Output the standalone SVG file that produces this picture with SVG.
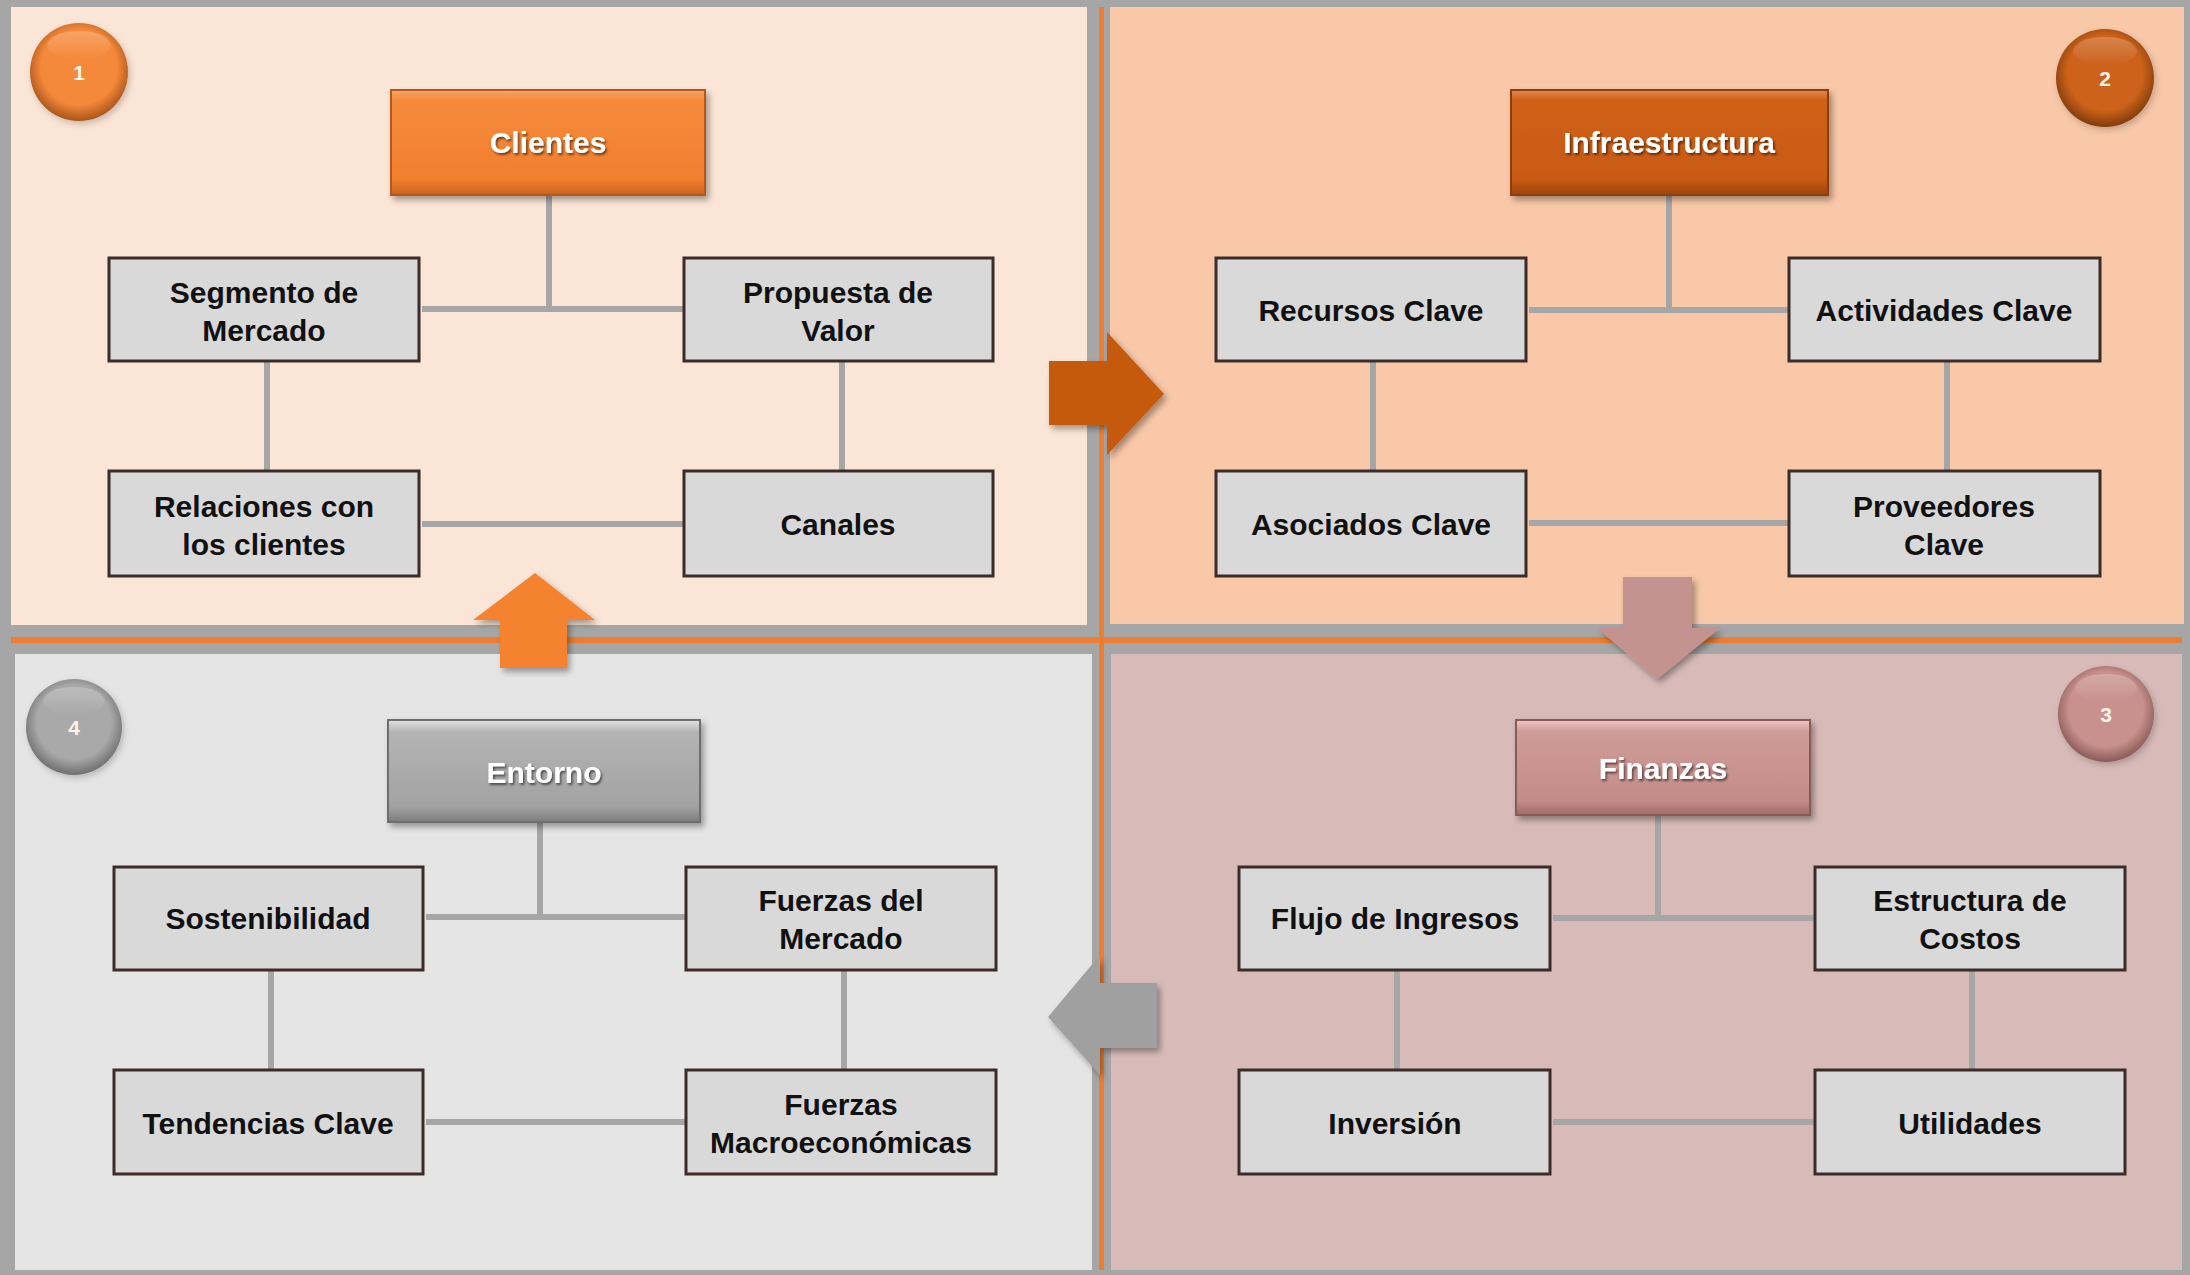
<svg xmlns="http://www.w3.org/2000/svg" width="2190" height="1275" viewBox="0 0 2190 1275">
<defs>
<style>
.node{fill:#d9d9d9;stroke:#3b2c2a;stroke-width:3}
.lbl{font-family:"Liberation Sans",Arial,sans-serif;font-weight:bold;font-size:30px;fill:#111;text-anchor:middle}
.hlbl{font-family:"Liberation Sans",Arial,sans-serif;font-weight:bold;font-size:30px;fill:#ffffff;text-anchor:middle;filter:url(#tsh)}
.num{font-family:"Liberation Sans",Arial,sans-serif;font-weight:bold;font-size:21px;fill:#fff3e8;text-anchor:middle}
.link{stroke:#a6a6a6;stroke-width:6;fill:none}
.div{stroke:#ed7d31;fill:none}
</style>
<filter id="tsh" x="-20%" y="-40%" width="140%" height="180%"><feDropShadow dx="1.5" dy="2" stdDeviation="1.2" flood-color="#000" flood-opacity="0.55"/></filter>
<filter id="sh" x="-20%" y="-20%" width="150%" height="150%"><feDropShadow dx="3" dy="4" stdDeviation="3" flood-color="#000" flood-opacity="0.35"/></filter>
<filter id="bsh" x="-10%" y="-10%" width="120%" height="130%"><feDropShadow dx="2" dy="3" stdDeviation="3" flood-color="#000" flood-opacity="0.2"/></filter>
<linearGradient id="gC" x1="0" y1="0" x2="0" y2="1"><stop offset="0" stop-color="#f7a468"/><stop offset="0.1" stop-color="#f58a3c"/><stop offset="0.85" stop-color="#f27f2e"/><stop offset="1" stop-color="#c9621e"/></linearGradient>
<linearGradient id="gI" x1="0" y1="0" x2="0" y2="1"><stop offset="0" stop-color="#e08a50"/><stop offset="0.1" stop-color="#cf6018"/><stop offset="0.85" stop-color="#c95a12"/><stop offset="1" stop-color="#9c440c"/></linearGradient>
<linearGradient id="gF" x1="0" y1="0" x2="0" y2="1"><stop offset="0" stop-color="#f0c8c5"/><stop offset="0.12" stop-color="#cf9c98"/><stop offset="0.85" stop-color="#c48c88"/><stop offset="1" stop-color="#a06c68"/></linearGradient>
<linearGradient id="gE" x1="0" y1="0" x2="0" y2="1"><stop offset="0" stop-color="#e2e2e2"/><stop offset="0.12" stop-color="#b4b4b4"/><stop offset="0.85" stop-color="#a2a2a2"/><stop offset="1" stop-color="#7c7c7c"/></linearGradient>
<radialGradient id="b1" cx="0.5" cy="0.45" r="0.55"><stop offset="0.7" stop-color="#f5893a"/><stop offset="1" stop-color="#a9561c"/></radialGradient>
<radialGradient id="b2" cx="0.5" cy="0.45" r="0.55"><stop offset="0.7" stop-color="#cc621a"/><stop offset="1" stop-color="#803c0c"/></radialGradient>
<radialGradient id="b3" cx="0.5" cy="0.45" r="0.55"><stop offset="0.7" stop-color="#c8918d"/><stop offset="1" stop-color="#8a5a56"/></radialGradient>
<radialGradient id="b4" cx="0.5" cy="0.45" r="0.55"><stop offset="0.7" stop-color="#a9a9a9"/><stop offset="1" stop-color="#6e6e6e"/></radialGradient>
<linearGradient id="hl" x1="0" y1="0" x2="0" y2="1"><stop offset="0" stop-color="#fff" stop-opacity="0.22"/><stop offset="1" stop-color="#fff" stop-opacity="0"/></linearGradient>
</defs>

<rect x="0" y="0" width="2190" height="1275" fill="#a6a6a6"/>

<g id="panels">
<rect x="11" y="7" width="1076" height="618" fill="#fbe5d6"/>
<rect x="1110" y="7" width="1074" height="617" fill="#f8c8a8"/>
<rect x="15" y="654" width="1077" height="616" fill="#e5e5e5"/>
<rect x="1111" y="654" width="1071" height="616" fill="#d8bbb9"/>
<line class="div" x1="1101.5" y1="7" x2="1101.5" y2="1270" stroke-width="5"/>
<line class="div" x1="11" y1="640" x2="2182" y2="640" stroke-width="6"/>
</g>

<g id="connectors">
<path class="link" d="M549 195 V309 M422 309 H684 M267 361 V471 M842 361 V471 M422 524 H684"/>
<path class="link" d="M1669 195 V310 M1529 310 H1789 M1373 361 V471 M1947 361 V471 M1529 523 H1789"/>
<path class="link" d="M540 822 V917 M426 917 H686 M271 970 V1070 M844 970 V1070 M426 1122 H686"/>
<path class="link" d="M1658 815 V918 M1553 918 H1815 M1397 970 V1070 M1972 970 V1070 M1553 1122 H1815"/>
<path id="arrow-right" filter="url(#sh)" fill="#c55a11" d="M1049 361 H1107 V332 L1164 394 L1107 455 V425 H1049 Z"/>
<path id="arrow-down" filter="url(#sh)" fill="#c4938f" d="M1623 577 H1692 V628 H1720 L1657 679 L1597 628 H1623 Z"/>
<path id="arrow-left" filter="url(#sh)" fill="#a0a0a0" d="M1157 983 V1048 H1100 V1075 L1048 1017 L1100 955 V983 Z"/>
<path id="arrow-up" filter="url(#sh)" fill="#f5822f" d="M535 573 L595 620 H567 V668 H500 V620 H473 Z"/>
</g>

<g id="badge-1"><circle cx="79" cy="72" r="49" fill="url(#b1)" filter="url(#bsh)"/><ellipse cx="79" cy="45" rx="32" ry="14" fill="url(#hl)"/><text class="num" x="79" y="80">1</text></g>
<g id="badge-2"><circle cx="2105" cy="78" r="49" fill="url(#b2)" filter="url(#bsh)"/><ellipse cx="2105" cy="51" rx="32" ry="14" fill="url(#hl)"/><text class="num" x="2105" y="86">2</text></g>
<g id="badge-3"><circle cx="2106" cy="714" r="48" fill="url(#b3)" filter="url(#bsh)"/><ellipse cx="2106" cy="688" rx="31" ry="14" fill="url(#hl)"/><text class="num" x="2106" y="722">3</text></g>
<g id="badge-4"><circle cx="74" cy="727" r="48" fill="url(#b4)" filter="url(#bsh)"/><ellipse cx="74" cy="701" rx="31" ry="14" fill="url(#hl)"/><text class="num" x="74" y="735">4</text></g>

<g id="clientes"><rect x="391" y="90" width="314" height="105" fill="url(#gC)" stroke="#b4581a" stroke-width="2" filter="url(#sh)"/><text class="hlbl" x="548" y="153">Clientes</text></g>
<g id="segmento-mercado"><rect class="node" x="109" y="258" width="310" height="103"/><text class="lbl" x="264" y="303">Segmento de</text><text class="lbl" x="264" y="341">Mercado</text></g>
<g id="propuesta-valor"><rect class="node" x="684" y="258" width="309" height="103"/><text class="lbl" x="838" y="303">Propuesta de</text><text class="lbl" x="838" y="341">Valor</text></g>
<g id="relaciones-clientes"><rect class="node" x="109" y="471" width="310" height="105"/><text class="lbl" x="264" y="517">Relaciones con</text><text class="lbl" x="264" y="555">los clientes</text></g>
<g id="canales"><rect class="node" x="684" y="471" width="309" height="105"/><text class="lbl" x="838" y="535">Canales</text></g>

<g id="infraestructura"><rect x="1511" y="90" width="317" height="105" fill="url(#gI)" stroke="#8e3e0a" stroke-width="2" filter="url(#sh)"/><text class="hlbl" x="1669" y="153">Infraestructura</text></g>
<g id="recursos-clave"><rect class="node" x="1216" y="258" width="310" height="103"/><text class="lbl" x="1371" y="321">Recursos Clave</text></g>
<g id="actividades-clave"><rect class="node" x="1789" y="258" width="311" height="103"/><text class="lbl" x="1944" y="321">Actividades Clave</text></g>
<g id="asociados-clave"><rect class="node" x="1216" y="471" width="310" height="105"/><text class="lbl" x="1371" y="535">Asociados Clave</text></g>
<g id="proveedores-clave"><rect class="node" x="1789" y="471" width="311" height="105"/><text class="lbl" x="1944" y="517">Proveedores</text><text class="lbl" x="1944" y="555">Clave</text></g>

<g id="entorno"><rect x="388" y="720" width="312" height="102" fill="url(#gE)" stroke="#6e6e6e" stroke-width="2" filter="url(#sh)"/><text class="hlbl" x="544" y="783">Entorno</text></g>
<g id="sostenibilidad"><rect class="node" x="114" y="867" width="309" height="103"/><text class="lbl" x="268" y="929">Sostenibilidad</text></g>
<g id="fuerzas-mercado"><rect class="node" x="686" y="867" width="310" height="103"/><text class="lbl" x="841" y="911">Fuerzas del</text><text class="lbl" x="841" y="949">Mercado</text></g>
<g id="tendencias-clave"><rect class="node" x="114" y="1070" width="309" height="104"/><text class="lbl" x="268" y="1134">Tendencias Clave</text></g>
<g id="fuerzas-macro"><rect class="node" x="686" y="1070" width="310" height="104"/><text class="lbl" x="841" y="1115">Fuerzas</text><text class="lbl" x="841" y="1153">Macroeconómicas</text></g>

<g id="finanzas"><rect x="1516" y="720" width="294" height="95" fill="url(#gF)" stroke="#8a5a56" stroke-width="2" filter="url(#sh)"/><text class="hlbl" x="1663" y="779">Finanzas</text></g>
<g id="flujo-ingresos"><rect class="node" x="1239" y="867" width="311" height="103"/><text class="lbl" x="1395" y="929">Flujo de Ingresos</text></g>
<g id="estructura-costos"><rect class="node" x="1815" y="867" width="310" height="103"/><text class="lbl" x="1970" y="911">Estructura de</text><text class="lbl" x="1970" y="949">Costos</text></g>
<g id="inversion"><rect class="node" x="1239" y="1070" width="311" height="104"/><text class="lbl" x="1395" y="1134">Inversión</text></g>
<g id="utilidades"><rect class="node" x="1815" y="1070" width="310" height="104"/><text class="lbl" x="1970" y="1134">Utilidades</text></g>
</svg>
